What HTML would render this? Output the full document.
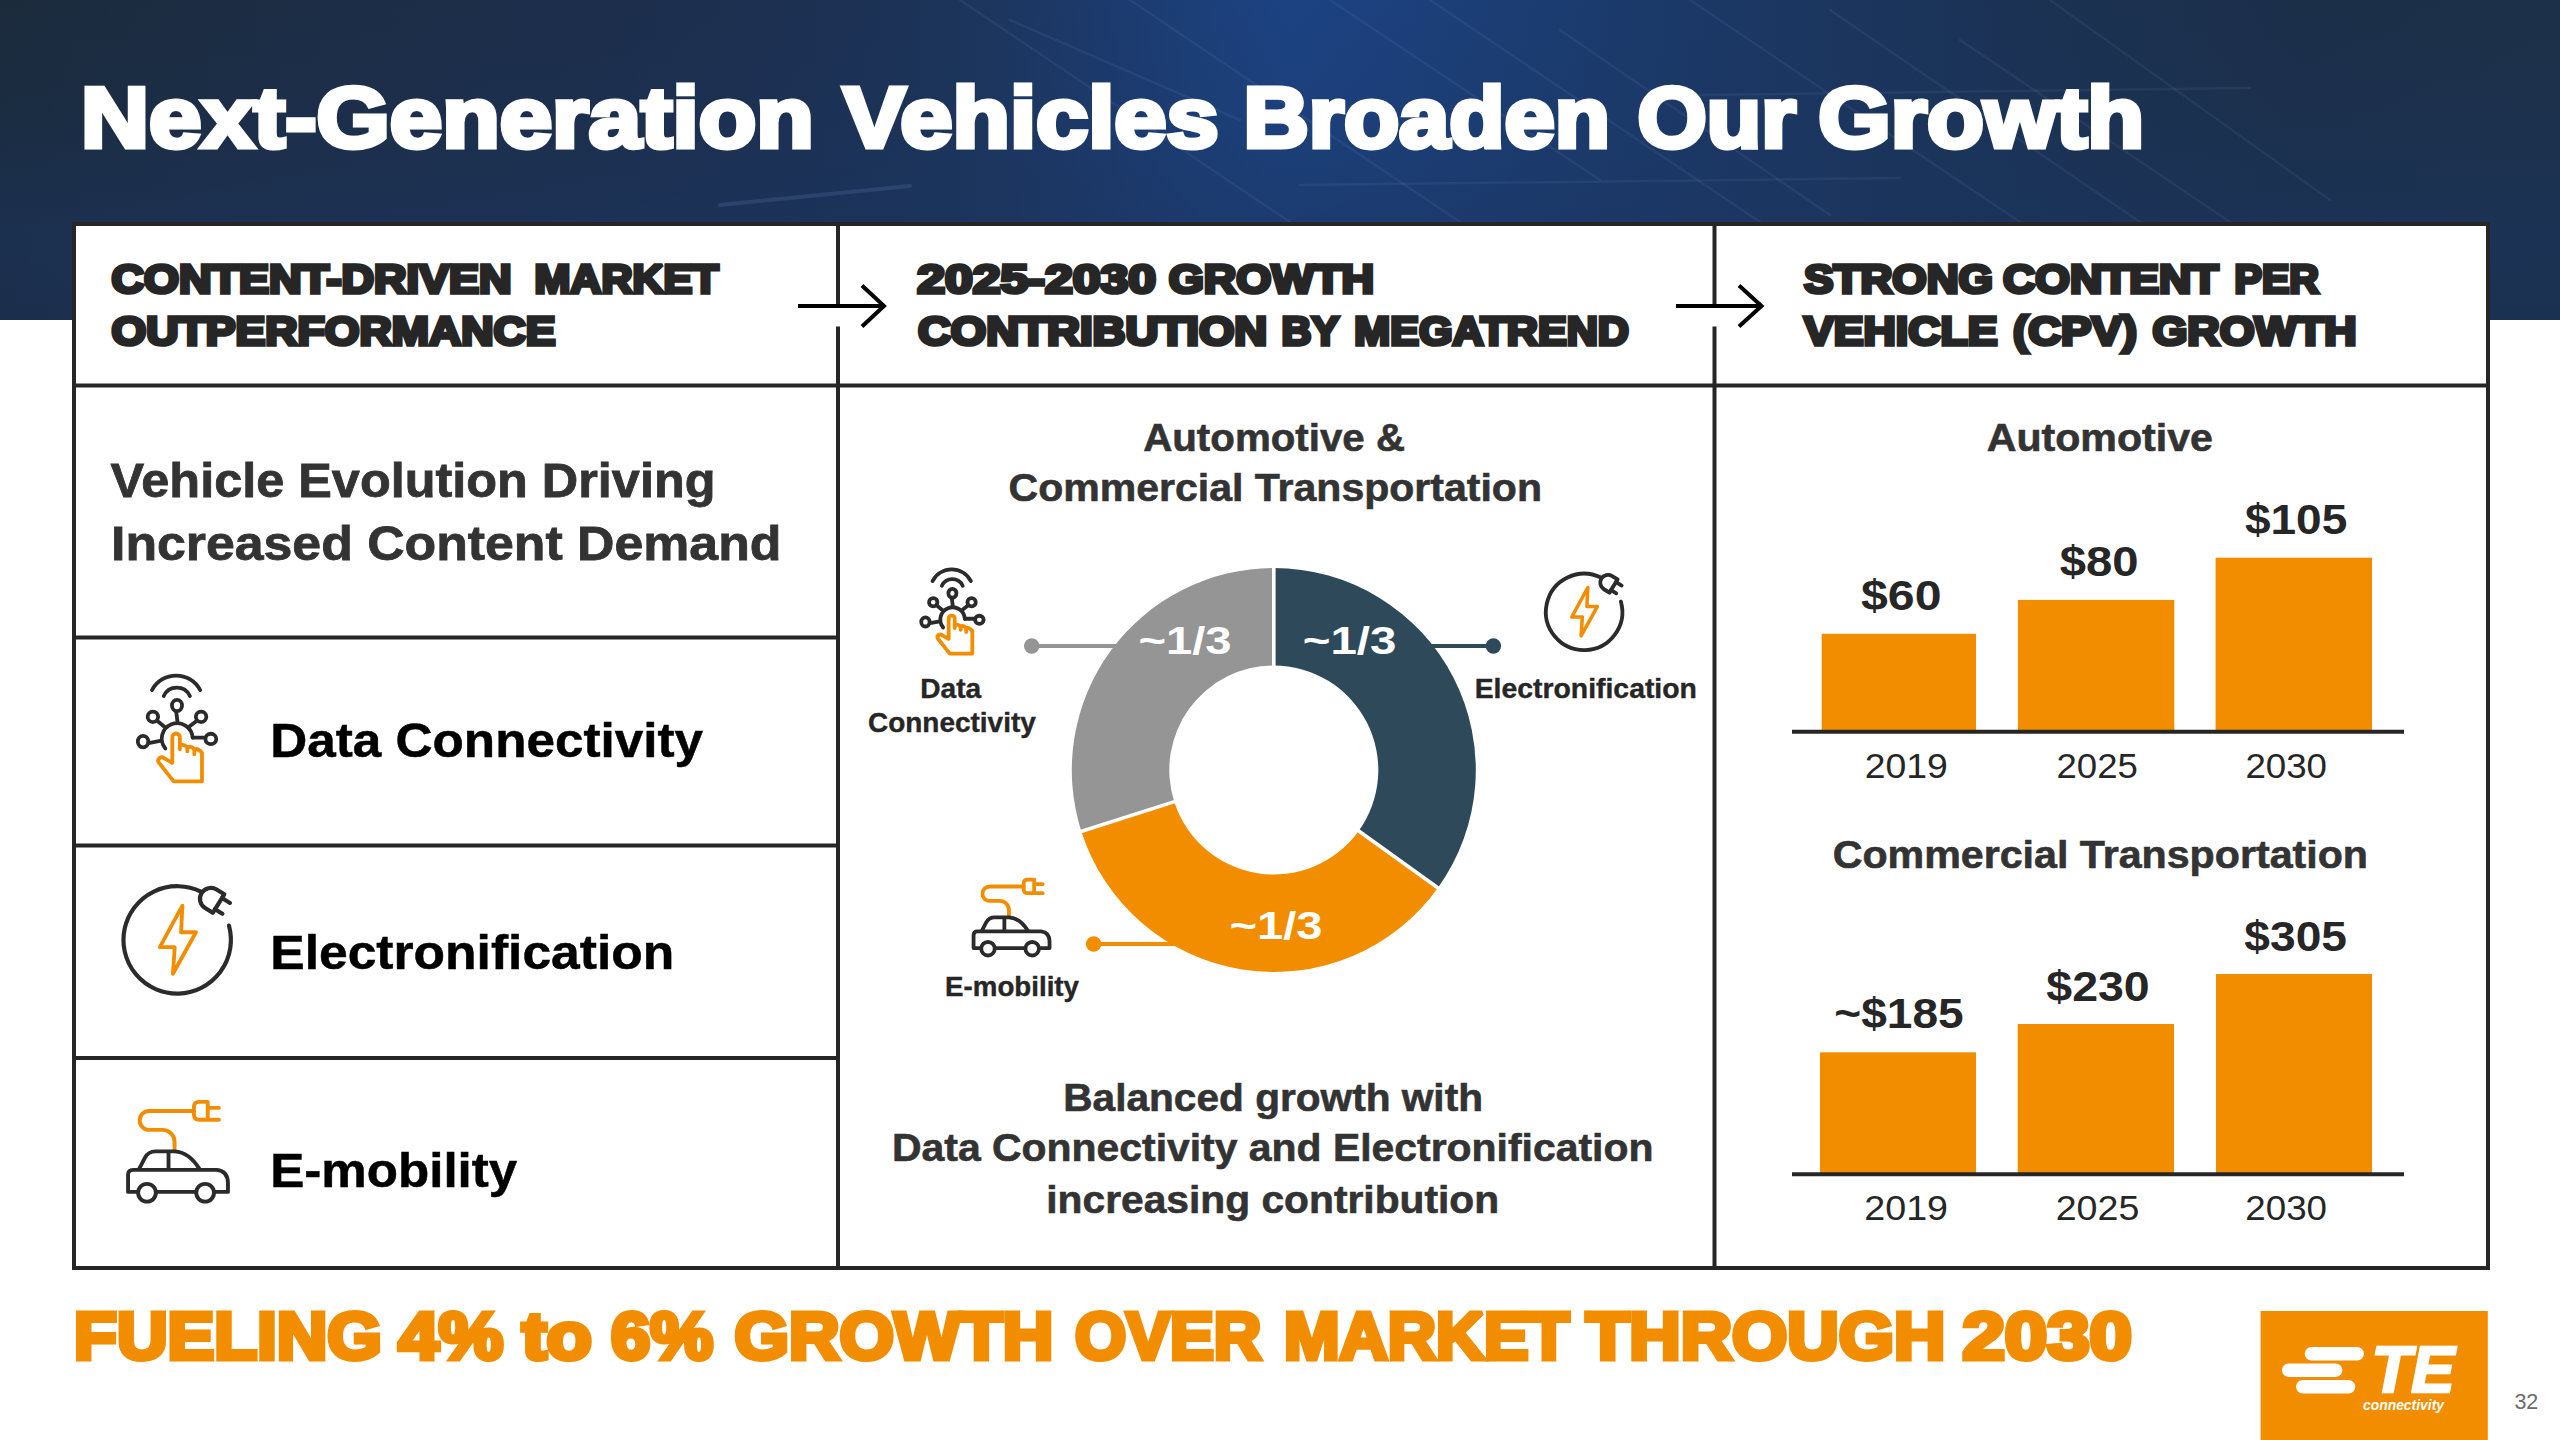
<!DOCTYPE html>
<html lang="en"><head><meta charset="utf-8"><title>Next-Generation Vehicles Broaden Our Growth</title>
<style>
html,body{margin:0;padding:0;background:#fff;}
body{width:2560px;height:1440px;overflow:hidden;font-family:"Liberation Sans",sans-serif;}
svg{display:block;}
svg text{font-family:"Liberation Sans",sans-serif;white-space:pre;}
</style></head><body>
<svg width="2560" height="1440" viewBox="0 0 2560 1440">
<defs>
<linearGradient id="hg" x1="0" y1="0" x2="2560" y2="0" gradientUnits="userSpaceOnUse">
<stop offset="0.0000" stop-color="#1b2b3c"/><stop offset="0.1172" stop-color="#1c2d45"/><stop offset="0.2344" stop-color="#1c2e4b"/><stop offset="0.3125" stop-color="#1c3052"/><stop offset="0.3711" stop-color="#1c3459"/><stop offset="0.4297" stop-color="#1c3a6c"/><stop offset="0.4688" stop-color="#1c3f79"/><stop offset="0.5039" stop-color="#1c4281"/><stop offset="0.5469" stop-color="#1c407c"/><stop offset="0.6055" stop-color="#1b3c70"/><stop offset="0.6641" stop-color="#1b3866"/><stop offset="0.7422" stop-color="#1b345a"/><stop offset="0.8203" stop-color="#1b3150"/><stop offset="0.8984" stop-color="#1b2f49"/><stop offset="1.0000" stop-color="#1c3048"/>
</linearGradient>
<linearGradient id="hv" x1="0" y1="0" x2="0" y2="320" gradientUnits="userSpaceOnUse">
<stop offset="0" stop-color="#1b3560" stop-opacity="0"/><stop offset="0.35" stop-color="#1b3560" stop-opacity="0.15"/><stop offset="0.7" stop-color="#1b3560" stop-opacity="0.5"/><stop offset="1" stop-color="#1b3258" stop-opacity="0.6"/>
</linearGradient>
</defs>
<rect x="0" y="0" width="2560" height="320" fill="url(#hg)"/>
<rect x="0" y="0" width="2560" height="320" fill="url(#hv)"/>
<g stroke="#a8c4ff" stroke-opacity="0.07" stroke-width="2.5" fill="none" stroke-linecap="round"><path d="M960 0 L1290 222"/><path d="M1010 20 L1240 120"/><path d="M1130 0 L1460 222"/><path d="M1330 0 L1600 180"/><path d="M1430 0 L1760 222"/><path d="M1560 30 L1830 215"/><path d="M1690 0 L2020 222"/><path d="M1830 10 L2140 222"/><path d="M1960 40 L2230 222"/><path d="M2050 0 L2330 200"/><path d="M1300 185 L1900 178"/><path d="M1700 95 L2250 88"/><path d="M720 205 L910 186" stroke-width="4" stroke-opacity="0.12"/></g>
<text y="146.7" font-size="85" font-weight="bold" fill="#ffffff" stroke="#ffffff" stroke-width="5" stroke-linejoin="miter" stroke-miterlimit="2.5" paint-order="stroke fill"><tspan x="81.10" textLength="732.60" lengthAdjust="spacingAndGlyphs">Next-Generation</tspan> <tspan x="842.90" textLength="375.80" lengthAdjust="spacingAndGlyphs">Vehicles</tspan> <tspan x="1243.50" textLength="366.50" lengthAdjust="spacingAndGlyphs">Broaden</tspan> <tspan x="1637.50" textLength="158.40" lengthAdjust="spacingAndGlyphs">Our</tspan> <tspan x="1818.30" textLength="325.80" lengthAdjust="spacingAndGlyphs">Growth</tspan></text>
<rect x="74" y="224" width="2414" height="1044" fill="#ffffff" stroke="#262626" stroke-width="4"/>
<g stroke="#262626" stroke-width="4" fill="none"><path d="M72 385.5 H2490"/><path d="M838 224 V1268"/><path d="M1714.5 224 V1268"/><path d="M72 637.5 H838"/><path d="M72 845.5 H838"/><path d="M72 1058 H838"/></g>
<rect x="832" y="308" width="12" height="18.5" fill="#fff"/>
<path d="M798 306 H883 M862 285.5 L884 306 L862 326.5" stroke="#000" stroke-width="4" fill="none" stroke-linejoin="miter"/>
<rect x="1708.5" y="308" width="12" height="18.5" fill="#fff"/>
<path d="M1676 306 H1760.5 M1739 285.5 L1761.5 306 L1739 326.5" stroke="#000" stroke-width="4" fill="none" stroke-linejoin="miter"/>
<text y="292.85" font-size="40.4" font-weight="bold" fill="#262626" stroke="#262626" stroke-width="3.7" stroke-linejoin="miter" stroke-miterlimit="2.5" paint-order="stroke fill"><tspan x="111.50" textLength="400.00" lengthAdjust="spacingAndGlyphs">CONTENT-DRIVEN</tspan> <tspan x="534.50" textLength="184.00" lengthAdjust="spacingAndGlyphs">MARKET</tspan></text>
<text y="345.35" font-size="40.4" font-weight="bold" fill="#262626" stroke="#262626" stroke-width="3.7" stroke-linejoin="miter" stroke-miterlimit="2.5" paint-order="stroke fill"><tspan x="111.50" textLength="444.00" lengthAdjust="spacingAndGlyphs">OUTPERFORMANCE</tspan></text>
<text y="292.85" font-size="40.4" font-weight="bold" fill="#262626" stroke="#262626" stroke-width="3.7" stroke-linejoin="miter" stroke-miterlimit="2.5" paint-order="stroke fill"><tspan x="917.30" textLength="238.60" lengthAdjust="spacingAndGlyphs">2025-2030</tspan> <tspan x="1168.70" textLength="205.40" lengthAdjust="spacingAndGlyphs">GROWTH</tspan></text>
<text y="345.35" font-size="40.4" font-weight="bold" fill="#262626" stroke="#262626" stroke-width="3.7" stroke-linejoin="miter" stroke-miterlimit="2.5" paint-order="stroke fill"><tspan x="917.90" textLength="349.40" lengthAdjust="spacingAndGlyphs">CONTRIBUTION</tspan> <tspan x="1281.50" textLength="56.80" lengthAdjust="spacingAndGlyphs">BY</tspan> <tspan x="1354.30" textLength="274.60" lengthAdjust="spacingAndGlyphs">MEGATREND</tspan></text>
<text y="292.85" font-size="40.4" font-weight="bold" fill="#262626" stroke="#262626" stroke-width="3.7" stroke-linejoin="miter" stroke-miterlimit="2.5" paint-order="stroke fill"><tspan x="1804.00" textLength="189.00" lengthAdjust="spacingAndGlyphs">STRONG</tspan> <tspan x="2003.00" textLength="215.50" lengthAdjust="spacingAndGlyphs">CONTENT</tspan> <tspan x="2234.50" textLength="84.50" lengthAdjust="spacingAndGlyphs">PER</tspan></text>
<text y="345.35" font-size="40.4" font-weight="bold" fill="#262626" stroke="#262626" stroke-width="3.7" stroke-linejoin="miter" stroke-miterlimit="2.5" paint-order="stroke fill"><tspan x="1804.00" textLength="193.50" lengthAdjust="spacingAndGlyphs">VEHICLE</tspan> <tspan x="2013.00" textLength="124.00" lengthAdjust="spacingAndGlyphs">(CPV)</tspan> <tspan x="2152.50" textLength="204.00" lengthAdjust="spacingAndGlyphs">GROWTH</tspan></text>
<text x="110.5" y="496.5" font-size="48" font-weight="bold" fill="#333333" textLength="605.0" lengthAdjust="spacingAndGlyphs" stroke="#333333" stroke-width="0.8" stroke-linejoin="miter" stroke-miterlimit="2.5" paint-order="stroke fill">Vehicle Evolution Driving</text>
<text x="111.0" y="559.9" font-size="48" font-weight="bold" fill="#333333" textLength="670.4" lengthAdjust="spacingAndGlyphs" stroke="#333333" stroke-width="0.8" stroke-linejoin="miter" stroke-miterlimit="2.5" paint-order="stroke fill">Increased Content Demand</text>
<text x="270.25" y="756.75" font-size="49" font-weight="bold" fill="#000000" textLength="432.75" lengthAdjust="spacingAndGlyphs" stroke="#000000" stroke-width="0.5" stroke-linejoin="miter" stroke-miterlimit="2.5" paint-order="stroke fill">Data Connectivity</text>
<text x="270.25" y="969.0" font-size="49" font-weight="bold" fill="#000000" textLength="404.0" lengthAdjust="spacingAndGlyphs" stroke="#000000" stroke-width="0.5" stroke-linejoin="miter" stroke-miterlimit="2.5" paint-order="stroke fill">Electronification</text>
<text x="270.25" y="1186.75" font-size="49" font-weight="bold" fill="#000000" textLength="247.0" lengthAdjust="spacingAndGlyphs" stroke="#000000" stroke-width="0.5" stroke-linejoin="miter" stroke-miterlimit="2.5" paint-order="stroke fill">E-mobility</text>
<text x="1143.2" y="450.6" font-size="38.8" font-weight="bold" fill="#333333" textLength="261.8" lengthAdjust="spacingAndGlyphs" stroke="#333333" stroke-width="0.6" stroke-linejoin="miter" stroke-miterlimit="2.5" paint-order="stroke fill">Automotive &amp;</text>
<text x="1008.5" y="500.9" font-size="38.8" font-weight="bold" fill="#333333" textLength="533.5" lengthAdjust="spacingAndGlyphs" stroke="#333333" stroke-width="0.6" stroke-linejoin="miter" stroke-miterlimit="2.5" paint-order="stroke fill">Commercial Transportation</text>
<text x="1063.25" y="1110.6" font-size="38.8" font-weight="bold" fill="#333333" textLength="419.75" lengthAdjust="spacingAndGlyphs" stroke="#333333" stroke-width="0.6" stroke-linejoin="miter" stroke-miterlimit="2.5" paint-order="stroke fill">Balanced growth with</text>
<text x="892.0" y="1161.3" font-size="38.8" font-weight="bold" fill="#333333" textLength="761.4" lengthAdjust="spacingAndGlyphs" stroke="#333333" stroke-width="0.6" stroke-linejoin="miter" stroke-miterlimit="2.5" paint-order="stroke fill">Data Connectivity and Electronification</text>
<text x="1046.3" y="1212.8" font-size="38.8" font-weight="bold" fill="#333333" textLength="452.8" lengthAdjust="spacingAndGlyphs" stroke="#333333" stroke-width="0.6" stroke-linejoin="miter" stroke-miterlimit="2.5" paint-order="stroke fill">increasing contribution</text>
<path d="M1273.80 568.00 A202 202 0 0 1 1437.84 887.88 L1358.66 830.98 A104.5 104.5 0 0 0 1273.80 665.50 Z" fill="#2E4A5A"/>
<path d="M1437.84 887.88 A202 202 0 0 1 1081.36 831.41 L1174.25 801.77 A104.5 104.5 0 0 0 1358.66 830.98 Z" fill="#F28D00"/>
<path d="M1081.36 831.41 A202 202 0 0 1 1273.80 568.00 L1273.80 665.50 A104.5 104.5 0 0 0 1174.25 801.77 Z" fill="#959595"/>
<path d="M1273.80 667.50 L1273.80 566.00 M1357.04 829.81 L1439.47 889.04 M1176.15 801.16 L1079.46 832.02" stroke="#fff" stroke-width="3.6" fill="none"/>
<g stroke-width="4" fill="none"><path d="M1031.7 646 H1120" stroke="#959595"/><path d="M1493.4 646 H1428" stroke="#2E4A5A"/><path d="M1093.6 944 H1178" stroke="#F28D00"/></g>
<circle cx="1031.7" cy="646" r="7.7" fill="#959595"/><circle cx="1493.4" cy="646" r="7.7" fill="#2E4A5A"/><circle cx="1093.6" cy="944" r="7.7" fill="#F28D00"/>
<text x="1138.4" y="654.1" font-size="38.7" font-weight="bold" fill="#ffffff" textLength="93.2" lengthAdjust="spacingAndGlyphs">~1/3</text>
<text x="1302.8" y="654.1" font-size="38.7" font-weight="bold" fill="#ffffff" textLength="93.6" lengthAdjust="spacingAndGlyphs">~1/3</text>
<text x="1229.4" y="939.2" font-size="38.7" font-weight="bold" fill="#ffffff" textLength="93.1" lengthAdjust="spacingAndGlyphs">~1/3</text>
<text x="920.3" y="697.5" font-size="28" font-weight="bold" fill="#262626" textLength="60.95" lengthAdjust="spacingAndGlyphs" stroke="#262626" stroke-width="0.4" stroke-linejoin="miter" stroke-miterlimit="2.5" paint-order="stroke fill">Data</text>
<text x="868.0" y="731.5" font-size="28" font-weight="bold" fill="#262626" textLength="167.8" lengthAdjust="spacingAndGlyphs" stroke="#262626" stroke-width="0.4" stroke-linejoin="miter" stroke-miterlimit="2.5" paint-order="stroke fill">Connectivity</text>
<text x="1474.7" y="697.7" font-size="28" font-weight="bold" fill="#262626" textLength="222.2" lengthAdjust="spacingAndGlyphs" stroke="#262626" stroke-width="0.4" stroke-linejoin="miter" stroke-miterlimit="2.5" paint-order="stroke fill">Electronification</text>
<text x="945.1" y="996.2" font-size="28" font-weight="bold" fill="#262626" textLength="133.9" lengthAdjust="spacingAndGlyphs" stroke="#262626" stroke-width="0.4" stroke-linejoin="miter" stroke-miterlimit="2.5" paint-order="stroke fill">E-mobility</text>
<text x="1986.7" y="451.4" font-size="38.8" font-weight="bold" fill="#333333" textLength="226.3" lengthAdjust="spacingAndGlyphs" stroke="#333333" stroke-width="0.6" stroke-linejoin="miter" stroke-miterlimit="2.5" paint-order="stroke fill">Automotive</text>
<text x="1832.7" y="868.0" font-size="38.8" font-weight="bold" fill="#333333" textLength="535.3" lengthAdjust="spacingAndGlyphs" stroke="#333333" stroke-width="0.6" stroke-linejoin="miter" stroke-miterlimit="2.5" paint-order="stroke fill">Commercial Transportation</text>
<rect x="1821.7" y="633.8" width="154.3" height="97.2" fill="#F28D00"/>
<rect x="2017.9" y="599.9" width="156.4" height="131.1" fill="#F28D00"/>
<rect x="2215.6" y="557.7" width="156.4" height="173.3" fill="#F28D00"/>
<path d="M1792 731.8 H2404" stroke="#262626" stroke-width="4"/>
<rect x="1820" y="1052.3" width="156.0" height="120.7" fill="#F28D00"/>
<rect x="2017.7" y="1024" width="156.3" height="149.0" fill="#F28D00"/>
<rect x="2216" y="974" width="156.0" height="199.0" fill="#F28D00"/>
<path d="M1792 1174.2 H2404" stroke="#262626" stroke-width="4"/>
<text x="1861.0" y="610.0" font-size="42.4" font-weight="bold" fill="#262626" textLength="80.5" lengthAdjust="spacingAndGlyphs">$60</text>
<text x="2059.7" y="576.4" font-size="42.4" font-weight="bold" fill="#262626" textLength="78.9" lengthAdjust="spacingAndGlyphs">$80</text>
<text x="2244.9" y="534.2" font-size="42.4" font-weight="bold" fill="#262626" textLength="102.4" lengthAdjust="spacingAndGlyphs">$105</text>
<text x="1834.3" y="1028.3" font-size="42.4" font-weight="bold" fill="#262626" textLength="129.4" lengthAdjust="spacingAndGlyphs">~$185</text>
<text x="2046.3" y="1001.0" font-size="42.4" font-weight="bold" fill="#262626" textLength="103.4" lengthAdjust="spacingAndGlyphs">$230</text>
<text x="2244.3" y="951.0" font-size="42.4" font-weight="bold" fill="#262626" textLength="102.7" lengthAdjust="spacingAndGlyphs">$305</text>
<text x="1864.7" y="778.0" font-size="34.5" font-weight="normal" fill="#262626" textLength="83.1" lengthAdjust="spacingAndGlyphs">2019</text>
<text x="2056.5" y="778.0" font-size="34.5" font-weight="normal" fill="#262626" textLength="81.4" lengthAdjust="spacingAndGlyphs">2025</text>
<text x="2245.4" y="778.0" font-size="34.5" font-weight="normal" fill="#262626" textLength="81.6" lengthAdjust="spacingAndGlyphs">2030</text>
<text x="1864.3" y="1220.0" font-size="34.5" font-weight="normal" fill="#262626" textLength="83.7" lengthAdjust="spacingAndGlyphs">2019</text>
<text x="2055.7" y="1220.0" font-size="34.5" font-weight="normal" fill="#262626" textLength="83.6" lengthAdjust="spacingAndGlyphs">2025</text>
<text x="2245.3" y="1220.0" font-size="34.5" font-weight="normal" fill="#262626" textLength="81.7" lengthAdjust="spacingAndGlyphs">2030</text>
<text y="1359.3" font-size="66" font-weight="bold" fill="#F28D00" stroke="#F28D00" stroke-width="5" stroke-linejoin="miter" stroke-miterlimit="2.5" paint-order="stroke fill"><tspan x="74.10" textLength="307.80" lengthAdjust="spacingAndGlyphs">FUELING</tspan> <tspan x="398.50" textLength="104.60" lengthAdjust="spacingAndGlyphs">4%</tspan> <tspan x="521.90" textLength="70.10" lengthAdjust="spacingAndGlyphs">to</tspan> <tspan x="611.10" textLength="102.00" lengthAdjust="spacingAndGlyphs">6%</tspan> <tspan x="734.50" textLength="318.80" lengthAdjust="spacingAndGlyphs">GROWTH</tspan> <tspan x="1075.00" textLength="186.30" lengthAdjust="spacingAndGlyphs">OVER</tspan> <tspan x="1284.00" textLength="285.30" lengthAdjust="spacingAndGlyphs">MARKET</tspan> <tspan x="1585.90" textLength="359.40" lengthAdjust="spacingAndGlyphs">THROUGH</tspan> <tspan x="1962.50" textLength="169.50" lengthAdjust="spacingAndGlyphs">2030</tspan></text>
<rect x="2260.6" y="1311" width="227.2" height="129" fill="#F28D00"/>
<g fill="#fff"><rect x="2304.7" y="1347" width="59.3" height="13.4" rx="6.7"/><rect x="2282" y="1363.5" width="60.3" height="13.4" rx="6.7"/><rect x="2296" y="1380" width="59.3" height="13.4" rx="6.7"/></g>
<text x="2371.5" y="1392.25" font-size="64.1" font-weight="bold" fill="#fff" textLength="83" lengthAdjust="spacingAndGlyphs" stroke="#fff" stroke-width="2.5" stroke-linejoin="miter" stroke-miterlimit="2.5" paint-order="stroke fill" font-style="italic">TE</text>
<text x="2363" y="1410.0" font-size="14.2" font-weight="bold" fill="#fff" textLength="81" lengthAdjust="spacingAndGlyphs" font-style="italic">connectivity</text>
<text x="2514.4" y="1408.8" font-size="21.5" font-weight="normal" fill="#6b6b6b">32</text>
<g transform="translate(126 664) scale(0.09025270758122744)" fill="none" stroke-linecap="round" stroke-linejoin="round"><g stroke="#2b2b2b" stroke-width="42.0"><path d="M288 290 A301 301 0 0 1 822 290"/><path d="M418 355 A160 160 0 0 1 708 355"/><ellipse cx="565" cy="460" rx="56" ry="62"/><path d="M556 528 L572 648"/><circle cx="298" cy="585" r="58"/><path d="M345 628 L432 700"/><circle cx="832" cy="585" r="58"/><path d="M785 628 L702 692"/><ellipse cx="189" cy="860" rx="58" ry="63"/><path d="M250 876 L392 850"/><ellipse cx="940" cy="830" rx="60" ry="57"/><path d="M878 815 L740 815"/><path d="M436 936 A171 171 0 1 1 738 815"/></g><g stroke="#F28D00" stroke-width="42.0"><path d="M513 1095 L513 812 A42 42 0 0 1 597 812 L597 905 Q640 880 680 925 Q720 900 757 945 Q800 930 842 985 L842 1300 L528 1300 L362 1090 Q345 1060 375 1040 Q400 1025 425 1045 L513 1095 Z" fill="#fff"/><path d="M597 905 L597 945 M680 925 L680 968 M757 945 L757 1000"/></g></g>
<g transform="translate(112 874) scale(0.09027777777777778)" fill="none" stroke-linecap="round" stroke-linejoin="round"><g stroke="#2b2b2b" stroke-width="46.0"><path d="M1295.4 571.0 A595 595 0 1 1 984.7 196.1"/><g transform="matrix(0.85 0.527 -0.527 0.85 1180 327.5)"><path d="M0 -121 L-100 -121 A121 121 0 0 0 -100 121 L0 121 Z"/><path d="M0 -73 L104 -73 M0 73 L96 73"/></g></g><path d="M780 350 L530 810 L695 810 L675 1105 L930 645 L765 645 Z" stroke="#F28D00" stroke-width="42.0"/></g>
<g transform="translate(116 1092) scale(0.08611111111111111)" fill="none" stroke-linecap="round" stroke-linejoin="round" stroke-width="45.0"><g stroke="#F28D00"><path d="M680 680 L680 580 A140 140 0 0 0 540 440 L385 440 A110 110 0 0 1 385 220 L905 220"/><path d="M1065 115 L965 115 Q905 115 905 175 L905 262 Q905 322 965 322 L1195 322 M1065 115 L1065 322 M1065 185 L1195 185"/></g><g stroke="#2b2b2b"><path d="M245 1160 L140 1160 L140 965 Q140 905 200 905 L1170 905 Q1300 920 1300 1060 L1300 1160 L1150 1160 M478 1160 L920 1160"/><circle cx="360" cy="1170" r="103"/><circle cx="1035" cy="1170" r="103"/><path d="M268 895 L335 765 Q375 690 460 690 L680 690 Q850 700 970 895 M610 695 L610 895"/></g></g>
<g transform="translate(911.85 560.25) scale(0.0718)" fill="none" stroke-linecap="round" stroke-linejoin="round"><g stroke="#2b2b2b" stroke-width="52.92"><path d="M288 290 A301 301 0 0 1 822 290"/><path d="M418 355 A160 160 0 0 1 708 355"/><ellipse cx="565" cy="460" rx="56" ry="62"/><path d="M556 528 L572 648"/><circle cx="298" cy="585" r="58"/><path d="M345 628 L432 700"/><circle cx="832" cy="585" r="58"/><path d="M785 628 L702 692"/><ellipse cx="189" cy="860" rx="58" ry="63"/><path d="M250 876 L392 850"/><ellipse cx="940" cy="830" rx="60" ry="57"/><path d="M878 815 L740 815"/><path d="M436 936 A171 171 0 1 1 738 815"/></g><g stroke="#F28D00" stroke-width="52.92"><path d="M513 1095 L513 812 A42 42 0 0 1 597 812 L597 905 Q640 880 680 925 Q720 900 757 945 Q800 930 842 985 L842 1300 L528 1300 L362 1090 Q345 1060 375 1040 Q400 1025 425 1045 L513 1095 Z" fill="#fff"/><path d="M597 905 L597 945 M680 925 L680 968 M757 945 L757 1000"/></g></g>
<g transform="translate(1537.75 565.0) scale(0.0642)" fill="none" stroke-linecap="round" stroke-linejoin="round"><g stroke="#2b2b2b" stroke-width="59.800000000000004"><path d="M1295.4 571.0 A595 595 0 1 1 984.7 196.1"/><g transform="matrix(0.85 0.527 -0.527 0.85 1180 327.5)"><path d="M0 -121 L-100 -121 A121 121 0 0 0 -100 121 L0 121 Z"/><path d="M0 -73 L104 -73 M0 73 L96 73"/></g></g><path d="M780 350 L530 810 L695 810 L675 1105 L930 645 L765 645 Z" stroke="#F28D00" stroke-width="54.6"/></g>
<g transform="translate(964.4 872.1) scale(0.0655)" fill="none" stroke-linecap="round" stroke-linejoin="round" stroke-width="58.050000000000004"><g stroke="#F28D00"><path d="M680 680 L680 580 A140 140 0 0 0 540 440 L385 440 A110 110 0 0 1 385 220 L905 220"/><path d="M1065 115 L965 115 Q905 115 905 175 L905 262 Q905 322 965 322 L1195 322 M1065 115 L1065 322 M1065 185 L1195 185"/></g><g stroke="#2b2b2b"><path d="M245 1160 L140 1160 L140 965 Q140 905 200 905 L1170 905 Q1300 920 1300 1060 L1300 1160 L1150 1160 M478 1160 L920 1160"/><circle cx="360" cy="1170" r="103"/><circle cx="1035" cy="1170" r="103"/><path d="M268 895 L335 765 Q375 690 460 690 L680 690 Q850 700 970 895 M610 695 L610 895"/></g></g>
</svg>
</body></html>
